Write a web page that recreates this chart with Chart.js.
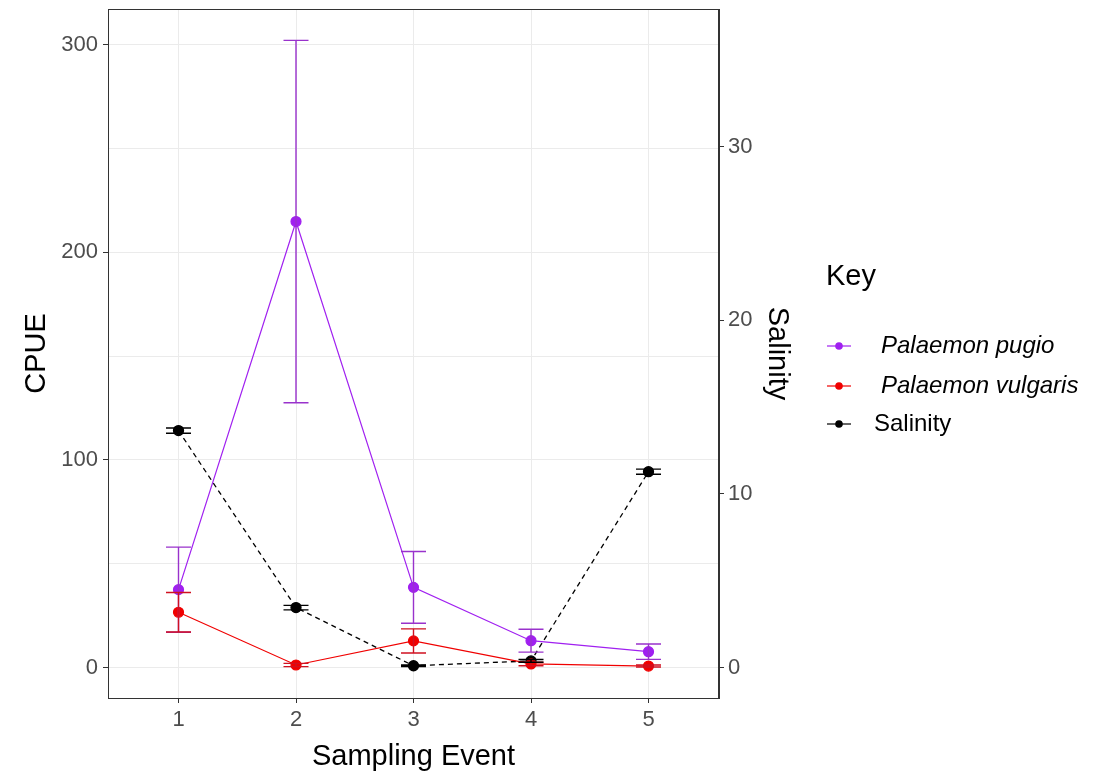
<!DOCTYPE html>
<html>
<head>
<meta charset="utf-8">
<script src="https://cdn.jsdelivr.net/npm/chart.js@4.4.1/dist/chart.umd.min.js"></script>
<style>
  html, body { margin: 0; padding: 0; background: #fff; }
  #wrap { width: 1104px; height: 778px; }
</style>
</head>
<body>
<div id="wrap"><canvas id="cpueChart" width="1104" height="778"></canvas></div>
<script>
// data
const samplingEvent = [1, 2, 3, 4, 5];
const pugioMean = [37.5, 214.8, 38.6, 12.9, 7.6];
const pugioErr = [20.5, 87.3, 17.3, 5.5, 3.7];
const vulgarisMean = [26.6, 1.2, 12.8, 1.7, 0.7];
const vulgarisErr = [9.5, 0.8, 5.8, 0.9, 0.5];
const salinityMean = [13.65, 3.45, 0.1, 0.38, 11.28];
const salinityErr = [0.15, 0.13, 0.04, 0.08, 0.15];
const cpueTicks = [0, 100, 200, 300];
const salinityTicks = [0, 10, 20, 30];

const FONT = "'Liberation Sans', Arial, sans-serif";
const PURPLE = '#A020F0';
const RED = '#F00000';

function pts(ys) {
    return samplingEvent.map((x, i) => ({ x: x, y: ys[i] }));
}

// error bars with caps
const errorBars = {
    id: 'errorBars',
    afterDatasetsDraw(chart) {
        const ctx = chart.ctx;
        const xs = chart.scales.x;
        chart.data.datasets.forEach((ds, i) => {
            const meta = chart.getDatasetMeta(i);
            const ys = chart.scales[meta.yAxisID];
            ctx.save();
            ctx.strokeStyle = ds.errColor;
            ctx.lineWidth = 1.4;
            ds.data.forEach((p, j) => {
                const e = ds.errors[j];
                const px = xs.getPixelForValue(p.x);
                const top = ys.getPixelForValue(p.y + e);
                const bot = ys.getPixelForValue(p.y - e);
                ctx.beginPath();
                ctx.moveTo(px, top); ctx.lineTo(px, bot);
                ctx.moveTo(px - 12.5, top); ctx.lineTo(px + 12.5, top);
                ctx.moveTo(px - 12.5, bot); ctx.lineTo(px + 12.5, bot);
                ctx.stroke();
            });
            ctx.restore();
        });
    }
};

// panel box, axis titles and the key
const decorations = {
    id: 'decorations',
    afterDraw(chart) {
        const ctx = chart.ctx;
        const a = chart.chartArea;
        ctx.save();
        ctx.strokeStyle = '#333';
        ctx.lineWidth = 1;
        ctx.strokeRect(a.left + 0.5, a.top + 0.5, a.right - a.left - 1, a.bottom - a.top);

        ctx.fillStyle = '#000';
        ctx.font = '29px ' + FONT;
        ctx.textAlign = 'center';
        ctx.textBaseline = 'middle';
        const midY = (a.top + a.bottom) / 2;
        ctx.save();
        ctx.translate(37, midY);
        ctx.rotate(-Math.PI / 2);
        ctx.fillText('CPUE', 0, 0);
        ctx.restore();
        ctx.save();
        ctx.translate(777, midY);
        ctx.rotate(Math.PI / 2);
        ctx.fillText('Salinity', 0, 0);
        ctx.restore();
        ctx.fillText('Sampling Event', (a.left + a.right) / 2, 757);

        // key
        ctx.textAlign = 'left';
        ctx.fillText('Key', 826, 277);
        const rows = [346, 386, 424];
        chart.data.datasets.forEach((ds, i) => {
            const y = rows[i];
            ctx.strokeStyle = ds.borderColor;
            ctx.lineWidth = 1.2;
            ctx.beginPath();
            ctx.moveTo(827, y); ctx.lineTo(851, y);
            ctx.stroke();
            ctx.fillStyle = ds.pointBackgroundColor;
            ctx.beginPath();
            ctx.arc(839, y, 3.8, 0, Math.PI * 2);
            ctx.fill();
            ctx.fillStyle = '#000';
            ctx.font = (ds.italic ? 'italic ' : '') + '24px ' + FONT;
            ctx.fillText(ds.label, ds.italic ? 881 : 874, y);
        });
        ctx.restore();
    }
};

const tickMark = c => (c.tick && cpueTicks.includes(c.tick.value)) ? '#333' : 'rgba(0,0,0,0)';
const noPad = s => { s.paddingTop = 0; s.paddingBottom = 0; };

const ctx = document.getElementById('cpueChart').getContext('2d');
const cpueChart = new Chart(ctx, {
    type: 'line',
    data: {
        datasets: [{
            label: 'Palaemon pugio',
            italic: true,
            data: pts(pugioMean),
            errors: pugioErr,
            errColor: '#9932CC',
            yAxisID: 'y',
            borderColor: PURPLE,
            borderWidth: 1.2,
            pointBackgroundColor: PURPLE,
            pointBorderColor: PURPLE,
            pointRadius: 5,
            tension: 0
        }, {
            label: 'Palaemon vulgaris',
            italic: true,
            data: pts(vulgarisMean),
            errors: vulgarisErr,
            errColor: '#D01020',
            yAxisID: 'y',
            borderColor: RED,
            borderWidth: 1.2,
            pointBackgroundColor: RED,
            pointBorderColor: RED,
            pointRadius: 5,
            tension: 0
        }, {
            label: 'Salinity',
            italic: false,
            data: pts(salinityMean),
            errors: salinityErr,
            errColor: '#000',
            yAxisID: 'y2',
            borderColor: '#000',
            borderWidth: 1.3,
            borderDash: [5, 4],
            pointBackgroundColor: '#000',
            pointBorderColor: '#000',
            pointRadius: 5,
            tension: 0
        }]
    },
    options: {
        responsive: false,
        animation: false,
        layout: { padding: { top: 9, left: 0, right: 0, bottom: 0 } },
        plugins: {
            legend: { display: false },
            tooltip: { enabled: false }
        },
        scales: {
            x: {
                type: 'linear',
                min: 0.4,
                max: 5.6,
                afterFit: s => { s.height = 80; s.paddingLeft = 0; s.paddingRight = 0; },
                ticks: {
                    stepSize: 1,
                    includeBounds: false,
                    padding: 4,
                    color: '#4D4D4D',
                    font: { family: FONT, size: 22 }
                },
                grid: { color: '#EBEBEB', tickColor: '#333', tickLength: 5 },
                border: { display: true, color: '#333' }
            },
            y: {
                position: 'left',
                min: -14.7,
                max: 317.2,
                afterFit: s => { s.width = 108; noPad(s); },
                ticks: {
                    stepSize: 50,
                    includeBounds: false,
                    padding: 5,
                    color: '#4D4D4D',
                    font: { family: FONT, size: 22 },
                    callback: v => cpueTicks.includes(v) ? String(v) : ''
                },
                grid: { color: '#EBEBEB', tickColor: tickMark, tickLength: 5 },
                border: { display: true, color: '#333' }
            },
            y2: {
                position: 'right',
                min: -1.758,
                max: 37.94,
                afterFit: s => { s.width = 385; noPad(s); },
                ticks: {
                    stepSize: 10,
                    includeBounds: false,
                    padding: 4,
                    color: '#4D4D4D',
                    font: { family: FONT, size: 22 },
                    callback: v => salinityTicks.includes(v) ? String(v) : ''
                },
                grid: { drawOnChartArea: false, tickColor: '#333', tickLength: 5 },
                border: { display: true, color: '#333' }
            }
        }
    },
    plugins: [errorBars, decorations]
});
</script>
</body>
</html>
